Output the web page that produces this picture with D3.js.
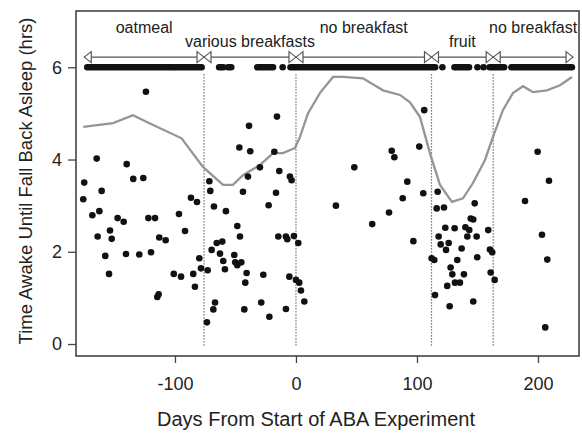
<!DOCTYPE html>
<html>
<head>
<meta charset="utf-8">
<script src="https://cdn.jsdelivr.net/npm/d3@7"></script>
<style>
  body { margin: 0; background: #fff; }
  text { font-family: "Liberation Sans", Arial, sans-serif; fill: #222; }
</style>
</head>
<body>
<svg></svg>
<script>
const width = 582,
      height = 433

// scatter: day, hours awake
const pointDays = [-124, -164.7, -139.9, -175, -160.6, -134.5, -126.2, -175.8, -168.3, -162.5, -147.4, -122, -116.5,
  -96.7, -86.8, -81.8, -71.6, -70.8, -67.8, -57.9, -46.8, -38.8, -15.7, -37.8, -17.9, -29.8, -39.7, -13.8, -5, -3.6,
  -43.8, -16.5, -22.6, -163.9, -153.7, -152.3, -157.6, -154.5, -142.4, -140.5, -129.5, -119.8, -113, -107.7, -114.6,
  -113.5, -101, -95, -91.7, -84.9, -83.5, -79.9, -78.5, -73, -73.6, -69.7, -68.3, -66.9, -65.5, -62.8, -60.9, -60.1,
  -58.7, -51, -50.2, -48.5, -48.5, -46.3, -45.2, -40.8, -41.9, -42.7, -28.7, -27, -22, -14.6, -8.3, -7.2, -8.3, -5.5,
  -1.7, 1.9, 0, 2.7, 4.1, 6.9,
  33, 76.9, 63, 97, 88.2, 106, 79.1, 81.3, 48.2, 101.9, 92, 105.2, 117.1, 116.3, 122.3, 147.7, 123.4, 131.1, 140,
  144.4, 146.5, 143.2, 141.6, 149.3, 117.9, 119.6, 126.2, 124, 136.9, 158.9, 160.3, 162.2, 112.1, 114.3, 133.3, 149.8,
  127.8, 129.2, 138.8, 131.4, 135.5, 125, 160.9, 164.2, 114.9, 146.5, 127, 189.3, 203.3, 207.7, 206, 199.7, 209.1]
const pointHours = [5.47, 4.02, 3.90, 3.50, 3.32, 3.58, 3.60, 3.14, 2.79, 2.88, 2.73, 2.73, 2.73,
  2.82, 3.17, 3.08, 3.53, 3.32, 2.98, 2.88, 4.26, 4.73, 4.93, 4.18, 4.17, 3.83, 3.63, 3.75, 3.63, 3.55,
  3.30, 3.28, 3.01, 2.33, 2.46, 2.28, 1.91, 1.52, 2.65, 1.95, 1.94, 1.99, 2.31, 2.25, 1.02,
  1.08, 1.52, 1.46, 2.45, 1.52, 1.24, 1.86, 1.64, 1.60, 0.47, 2.04, 0.75, 0.90, 2.19, 1.96, 2.22, 1.80,
  1.62, 1.93, 1.77, 2.56, 1.71, 2.33, 1.77, 1.54, 1.33, 0.75, 0.90, 1.50, 0.59, 2.33, 2.33, 2.27, 0.76, 1.46,
  2.34, 2.19, 1.39, 1.33, 1.16, 0.92,
  3.0, 2.85, 2.60, 2.23, 3.16, 5.07, 4.19, 4.05, 3.83, 4.28, 3.52, 3.27, 3.30, 2.94, 2.96, 3.05, 2.52, 2.51, 2.53,
  2.72, 2.70, 2.47, 2.33, 2.33, 2.33, 2.16, 2.19, 2.04, 2.07, 2.47, 2.05, 1.99, 1.86, 1.82, 1.82, 1.88,
  1.66, 1.51, 1.51, 1.33, 1.33, 1.26, 1.55, 1.39, 1.06, 0.92, 0.82, 3.1, 2.37, 1.83, 0.36, 4.17, 3.54]

// smoothed trend (gray line)
const trendDays = [-175.8, -151.2, -134.7, -120.7, -94.5, -76.9, -60.3, -52.1, -43.8, -29.8, -19, -10.7, -0.8, 3.3,
  9.9, 20, 30.6, 38.8, 55.4, 71.9, 86, 94.2, 102.5, 110.7, 119, 128.9, 138, 146.3, 156.2, 162.8, 171, 179.3, 187.6,
  195.9, 207.4, 218.2, 228.1]
const trendHours = [4.71, 4.79, 4.96, 4.78, 4.46, 3.84, 3.45, 3.45, 3.66, 3.88, 4.14, 4.14, 4.25, 4.49,
  5.0, 5.45, 5.79, 5.79, 5.76, 5.50, 5.40, 5.24, 4.92, 4.14, 3.45, 3.08, 3.16, 3.49, 3.99, 4.49, 5.07, 5.44, 5.59,
  5.46, 5.50, 5.61, 5.79]

// days with a recorded night (rug at y = 6), as [from, to]
const rugRanges = [[-172.5, -101], [-99.5, -78], [-63.5, -60], [-56, -53.5], [-32, -19], [-11, -11], [-4.5, 115],
  [121, 121], [131, 143], [150, 150], [155, 155], [160, 172], [178, 228]]

// diet phases
const phaseNames = ["oatmeal", "various breakfasts", "no breakfast", "fruit", "no breakfast"]
const phaseStart = [-175, -76, 0, 112, 163]
const phaseEnd = [-76, 0, 112, 163, 229]
const phaseBreaks = [-76, 0, 112, 163]

const xTicks = [-100, 0, 100, 200],
      yTicks = [0, 2, 4, 6]

const svg = d3.select("svg")
  .attr("width", width)
  .attr("height", height)

const x = d3.scaleLinear().domain([-181.8, 233.9]).range([76, 579])
const y = d3.scaleLinear().domain([-0.26, 7.22]).range([356, 11])

// break lines
svg.selectAll("line.break")
  .data(phaseBreaks)
  .enter().append("line").classed("break", true)
    .attr("x1", d => x(d)).attr("x2", d => x(d))
    .attr("y1", y(5.85)).attr("y2", y(-0.03))
    .style("stroke", "#555")
    .style("stroke-width", 1.2)
    .style("stroke-dasharray", "1.2,1.8")

// trend
svg.append("path")
  .datum(trendDays.map((d, i) => [d, trendHours[i]]))
  .attr("d", d3.line().x(d => x(d[0])).y(d => y(d[1])))
  .style("fill", "none")
  .style("stroke", "#959595")
  .style("stroke-width", 2.3)

// rug
svg.selectAll("line.rug")
  .data(rugRanges)
  .enter().append("line").classed("rug", true)
    .attr("x1", d => x(d[0])).attr("x2", d => x(d[1]))
    .attr("y1", y(6)).attr("y2", y(6))
    .style("stroke", "#111")
    .style("stroke-width", 6.6)
    .style("stroke-linecap", "round")

// phase arrows
const arrowY = y(6.22)
const phases = phaseNames.map((name, i) => ({name, start: phaseStart[i], end: phaseEnd[i], row: i % 2}))

svg.selectAll("line.phase")
  .data(phases)
  .enter().append("line").classed("phase", true)
    .attr("x1", d => x(d.start)).attr("x2", d => x(d.end))
    .attr("y1", arrowY).attr("y2", arrowY)
    .style("stroke", "#555")
    .style("stroke-width", 1.2)

const head = (tip, dir) => {
  const l = 7, h = 5.5
  return `M${tip},${arrowY}L${tip - dir * l},${arrowY - h}L${tip - dir * l},${arrowY + h}Z`
}

svg.selectAll("path.head")
  .data(phases.flatMap(d => [[x(d.start), -1], [x(d.end), 1]]))
  .enter().append("path").classed("head", true)
    .attr("d", d => head(d[0], d[1]))
    .style("fill", "#fff")
    .style("stroke", "#555")
    .style("stroke-width", 1.2)

svg.selectAll("text.phase")
  .data(phases)
  .enter().append("text").classed("phase", true)
    .attr("x", d => x((d.start + d.end) / 2))
    .attr("y", d => arrowY - (d.row ? 10 : 24))
    .attr("text-anchor", "middle")
    .style("font-size", "16px")
    .text(d => d.name)

// points
svg.selectAll("circle.pt")
  .data(pointDays.map((d, i) => [d, pointHours[i]]))
  .enter().append("circle").classed("pt", true)
    .attr("cx", d => x(d[0]))
    .attr("cy", d => y(d[1]))
    .attr("r", 3.3)
    .style("fill", "#111")

// frame
svg.append("rect")
  .attr("x", 76).attr("y", 11)
  .attr("width", 579 - 76).attr("height", 356 - 11)
  .style("fill", "none")
  .style("stroke", "#444")
  .style("stroke-width", 1.6)

// axes
const xAxis = svg.append("g")
  .attr("transform", `translate(0,356)`)
  .call(d3.axisBottom(x).tickValues(xTicks).tickSize(7).tickPadding(14).tickFormat(d3.format("d")))
const yAxis = svg.append("g")
  .attr("transform", `translate(76,0)`)
  .call(d3.axisLeft(y).tickValues(yTicks).tickSize(8).tickPadding(6))

;[xAxis, yAxis].forEach(g => {
  g.select(".domain").remove()
  g.selectAll(".tick line").style("stroke", "#444").style("stroke-width", 1.3)
  g.selectAll(".tick text")
    .style("font-family", "'Liberation Sans', Arial, sans-serif")
    .style("font-size", "18px")
    .style("fill", "#222")
})
xAxis.selectAll(".tick text").text(d => d < 0 ? "-" + Math.abs(d) : d)

svg.append("text")
  .attr("x", 316)
  .attr("y", 426)
  .attr("text-anchor", "middle")
  .style("font-size", "20px")
  .text("Days From Start of ABA Experiment")

svg.append("text")
  .attr("transform", "translate(32,181) rotate(-90)")
  .attr("text-anchor", "middle")
  .style("font-size", "18.5px")
  .text("Time Awake Until Fall Back Asleep (hrs)")
</script>
</body>
</html>
